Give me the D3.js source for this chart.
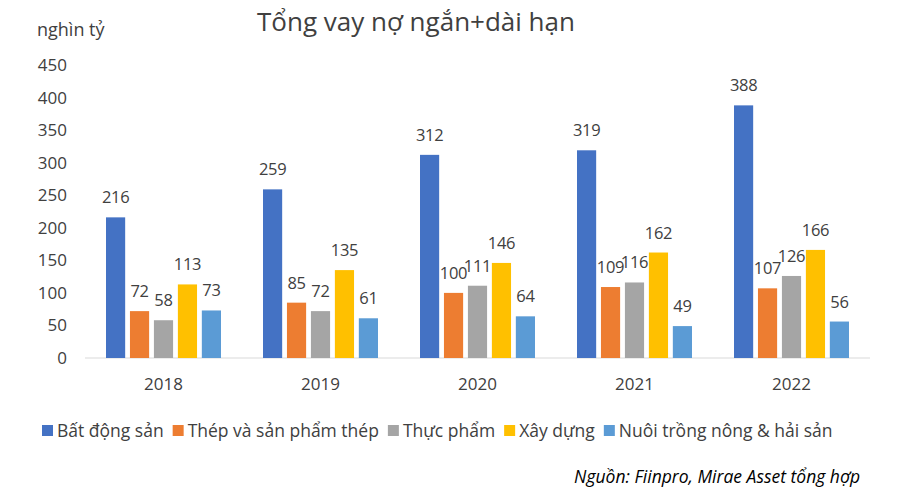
<!DOCTYPE html>
<html>
<head>
<meta charset="utf-8">
<script src="https://cdn.jsdelivr.net/npm/d3@7"></script>
<style>
  body { margin: 0; background: #fff; }
  svg { font-family: "Open Sans", "Noto Sans", sans-serif; }
</style>
</head>
<body>
<div id="chart"></div>
<script>
const years = ["2018", "2019", "2020", "2021", "2022"];
const seriesNames = ["Bất động sản", "Thép và sản phẩm thép", "Thực phẩm", "Xây dựng", "Nuôi trồng nông & hải sản"];
const batDongSan = [216, 259, 312, 319, 388];
const thep = [72, 85, 100, 109, 107];
const thucPham = [58, 72, 111, 116, 126];
const xayDung = [113, 135, 146, 162, 166];
const nuoiTrong = [73, 61, 64, 49, 56];
const yTicks = [0, 50, 100, 150, 200, 250, 300, 350, 400, 450];
const colors = ["#4472C4", "#ED7D31", "#A5A5A5", "#FFC000", "#5B9BD5"];

const values = [batDongSan, thep, thucPham, xayDung, nuoiTrong];
const width = 900, height = 493;

const svg = d3.select("#chart").append("svg")
  .attr("width", width)
  .attr("height", height);

const x = d3.scaleBand().domain(years).range([85, 870]);
const xInner = d3.scaleBand().domain(d3.range(seriesNames.length))
  .range([21, 136]).paddingInner(0.2);
const y = d3.scaleLinear().domain([0, 450]).range([358, 65]);

// y tick labels (no axis line)
svg.append("g")
  .selectAll("text")
  .data(yTicks)
  .enter().append("text")
  .attr("x", 67)
  .attr("y", d => y(d))
  .attr("dy", ".35em")
  .attr("text-anchor", "end")
  .style("font-size", "17px")
  .style("fill", "#404040")
  .text(d => d);

// baseline
svg.append("line")
  .attr("x1", 85).attr("x2", 870)
  .attr("y1", y(0)).attr("y2", y(0))
  .attr("stroke", "#D9D9D9")
  .attr("stroke-width", 1);

const groups = svg.selectAll(".year")
  .data(years)
  .enter().append("g")
  .attr("class", "year")
  .attr("transform", d => `translate(${x(d)},0)`);

groups.selectAll("rect")
  .data((d, i) => values.map((s, k) => ({ k, v: s[i] })))
  .enter().append("rect")
  .attr("x", d => xInner(d.k))
  .attr("y", d => y(d.v))
  .attr("width", xInner.bandwidth())
  .attr("height", d => y(0) - y(d.v))
  .attr("fill", d => colors[d.k]);

groups.selectAll("text.val")
  .data((d, i) => values.map((s, k) => ({ k, v: s[i] })))
  .enter().append("text")
  .attr("class", "val")
  .attr("x", d => xInner(d.k) + xInner.bandwidth() / 2)
  .attr("y", d => y(d.v) - 14)
  .attr("text-anchor", "middle")
  .style("font-size", "16.5px")
  .style("letter-spacing", "-0.3px")
  .style("fill", "#404040")
  .text(d => d.v);

// x labels
svg.append("g")
  .selectAll("text")
  .data(years)
  .enter().append("text")
  .attr("x", d => x(d) + x.bandwidth() / 2)
  .attr("y", 390)
  .attr("text-anchor", "middle")
  .style("font-size", "17px")
  .style("fill", "#404040")
  .text(d => d);

// title
svg.append("text")
  .attr("x", 416)
  .attr("y", 31)
  .attr("text-anchor", "middle")
  .style("font-size", "26px")
  .style("fill", "#404040")
  .text("Tổng vay nợ ngắn+dài hạn");

// unit
svg.append("text")
  .attr("x", 37)
  .attr("y", 36)
  .style("font-size", "18px")
  .style("fill", "#404040")
  .text("nghìn tỷ");

// legend
const legend = svg.append("g").attr("transform", "translate(42,431)");
let lx = 0;
seriesNames.forEach((name, i) => {
  const g = legend.append("g").attr("transform", `translate(${lx},0)`);
  g.append("rect")
    .attr("x", 0).attr("y", -6)
    .attr("width", 11).attr("height", 11)
    .attr("fill", colors[i]);
  const t = g.append("text")
    .attr("x", 15)
    .attr("dy", ".35em")
    .style("font-size", "17.5px")
    .style("fill", "#404040")
    .text(name);
  lx += 15 + t.node().getComputedTextLength() + 9;
});

// source
svg.append("text")
  .attr("x", 860)
  .attr("y", 483)
  .attr("text-anchor", "end")
  .style("font-size", "17.5px")
  .style("font-style", "italic")
  .style("fill", "#000")
  .text("Nguồn: Fiinpro, Mirae Asset tổng hợp");
</script>
</body>
</html>
